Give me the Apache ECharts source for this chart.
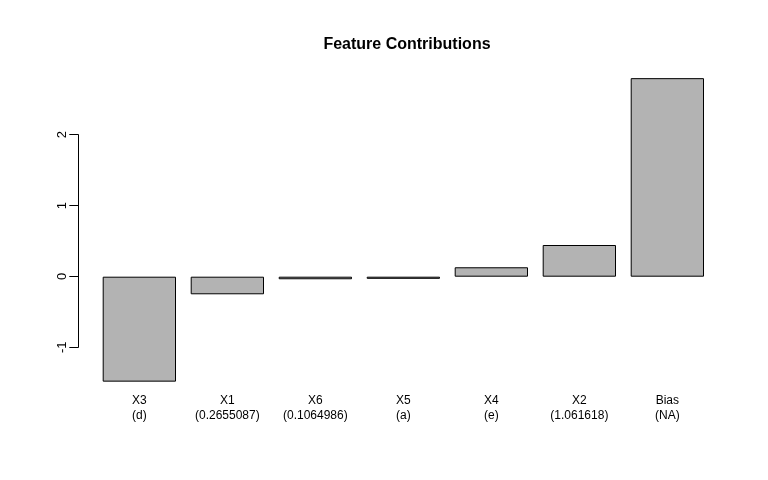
<!DOCTYPE html>
<html><head><meta charset="utf-8">
<script src="https://cdn.jsdelivr.net/npm/echarts@6/dist/echarts.min.js"></script>
<style>html,body{margin:0;padding:0;background:#fff}#c{width:768px;height:480px}</style>
</head><body><div id="c"></div>
<script>
const features = ['X3','X1','X6','X5','X4','X2','Bias'];
const featureValues = ['d','0.2655087','0.1064986','a','e','1.061618','NA'];
const contributions = [-1.48, -0.248, -0.036, -0.03, 0.133, 0.447, 2.80];
const yTicks = [-1, 0, 1, 2];

const labels = features.map((f, i) => f + '\n(' + featureValues[i] + ')');
const font = 'Liberation Sans, Arial, Helvetica, sans-serif';
const chart = echarts.init(document.getElementById('c'));
chart.setOption({
  animation: false,
  title: {
    text: 'Feature Contributions', left: 402, top: 32, textAlign: 'center',
    textStyle: {fontFamily: font, fontWeight: 'bold', fontSize: 16, color: '#000'}
  },
  grid: [
    {left: 95.35, width: 616, top: 66.1, height: 327.6},
    {left: 78.3, width: 1, top: 134.7, height: 212.6}
  ],
  xAxis: [
    {type: 'category', gridIndex: 0, data: labels,
     axisLine: {show: false, onZero: false}, axisTick: {show: false},
     axisLabel: {fontFamily: font, fontSize: 12, color: '#000', lineHeight: 15, margin: -1, interval: 0}},
    {type: 'value', gridIndex: 1, show: false}
  ],
  yAxis: [
    {type: 'value', gridIndex: 0, min: -1.65, max: 2.97, show: false},
    {type: 'value', gridIndex: 1, min: yTicks[0], max: yTicks[yTicks.length - 1], interval: 1,
     axisLine: {show: true, lineStyle: {color: '#000', width: 1}},
     axisTick: {show: true, length: 9, lineStyle: {color: '#000'}},
     splitLine: {show: false},
     axisLabel: {fontFamily: font, fontSize: 13, color: '#000', rotate: 90, margin: 9}}
  ],
  series: [{
    type: 'bar', xAxisIndex: 0, yAxisIndex: 0, data: contributions,
    barCategoryGap: '16.7%',
    itemStyle: {color: '#b3b3b3', borderColor: '#000', borderWidth: 1}
  }]
});
</script></body></html>
